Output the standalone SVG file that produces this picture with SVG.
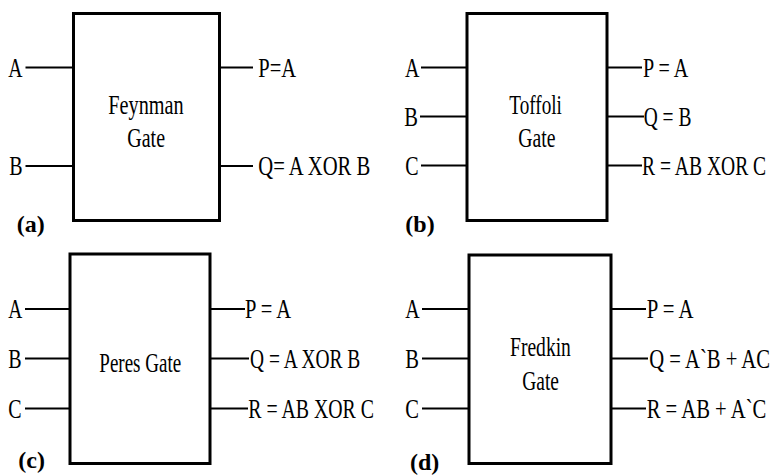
<svg xmlns="http://www.w3.org/2000/svg" width="774" height="476" viewBox="0 0 774 476">
<style>
.box{fill:#fff;stroke:#000;stroke-width:3}
.wire{stroke:#000;stroke-width:2;fill:none}
text{font-family:"Liberation Serif","Times New Roman",serif;font-size:27px;fill:#000}
.cap{font-size:24px;font-weight:bold}
</style>
<rect width="774" height="476" fill="#fff"/>
<g id="connectors">
<line class="wire" x1="25.5" y1="67.5" x2="73.5" y2="67.5"/>
<line class="wire" x1="25.5" y1="166" x2="73.5" y2="166"/>
<line class="wire" x1="219.5" y1="67.5" x2="253" y2="67.5"/>
<line class="wire" x1="219.5" y1="166" x2="253" y2="166"/>
<line class="wire" x1="421" y1="67.5" x2="467" y2="67.5"/>
<line class="wire" x1="420" y1="116.5" x2="467" y2="116.5"/>
<line class="wire" x1="421" y1="165.5" x2="467" y2="165.5"/>
<line class="wire" x1="607" y1="67.5" x2="642" y2="67.5"/>
<line class="wire" x1="607" y1="116.5" x2="644" y2="116.5"/>
<line class="wire" x1="607" y1="165.5" x2="642" y2="165.5"/>
<line class="wire" x1="25" y1="309" x2="70" y2="309"/>
<line class="wire" x1="25" y1="358.5" x2="70" y2="358.5"/>
<line class="wire" x1="25" y1="408.5" x2="70" y2="408.5"/>
<line class="wire" x1="210" y1="309" x2="245" y2="309"/>
<line class="wire" x1="210" y1="358.5" x2="249" y2="358.5"/>
<line class="wire" x1="210" y1="408.5" x2="248" y2="408.5"/>
<line class="wire" x1="422" y1="309" x2="469" y2="309"/>
<line class="wire" x1="422" y1="358.5" x2="469" y2="358.5"/>
<line class="wire" x1="422" y1="408.5" x2="469" y2="408.5"/>
<line class="wire" x1="611" y1="309" x2="646" y2="309"/>
<line class="wire" x1="611" y1="358.5" x2="648" y2="358.5"/>
<line class="wire" x1="611" y1="408.5" x2="646" y2="408.5"/>
</g>
<g id="feynman">
<rect class="box" x="73.5" y="13.5" width="146" height="207"/>
<text transform="translate(108.3 114.3) scale(0.75 1)">Feynman</text>
<text transform="translate(127.3 146.7) scale(0.74 1)">Gate</text>
<text transform="translate(8.3 76.5) scale(0.73 1)">A</text>
<text transform="translate(9.3 175) scale(0.74 1)">B</text>
<text transform="translate(258.3 76.5) scale(0.76 1)">P=A</text>
<text transform="translate(258.3 175) scale(0.765 1)">Q= A XOR B</text>
<text class="cap" x="16.7" y="232">(a)</text>
</g>
<g id="toffoli">
<rect class="box" x="467" y="13.5" width="140" height="207"/>
<text transform="translate(509.3 114.3) scale(0.71 1)">Toffoli</text>
<text transform="translate(518.3 146.7) scale(0.73 1)">Gate</text>
<text transform="translate(405 76.5) scale(0.74 1)">A</text>
<text transform="translate(404.3 125.5) scale(0.76 1)">B</text>
<text transform="translate(405.3 174.5) scale(0.74 1)">C</text>
<text transform="translate(643 76.5) scale(0.745 1)">P = A</text>
<text transform="translate(643.7 125.5) scale(0.72 1)">Q = B</text>
<text transform="translate(642 174.5) scale(0.725 1)">R = AB XOR C</text>
<text class="cap" x="405.3" y="232">(b)</text>
</g>
<g id="peres">
<rect class="box" x="70" y="254" width="140" height="209.5"/>
<text transform="translate(99.3 372.3) scale(0.705 1)">Peres Gate</text>
<text transform="translate(8.3 318) scale(0.72 1)">A</text>
<text transform="translate(8.3 367.5) scale(0.74 1)">B</text>
<text transform="translate(8.3 417.5) scale(0.74 1)">C</text>
<text transform="translate(245 318) scale(0.76 1)">P = A</text>
<text transform="translate(250 367.5) scale(0.72 1)">Q = A XOR B</text>
<text transform="translate(248.3 417.5) scale(0.734 1)">R = AB XOR C</text>
<text class="cap" x="18.3" y="468">(c)</text>
</g>
<g id="fredkin">
<rect class="box" x="469" y="255" width="142" height="208.5"/>
<text transform="translate(510 356) scale(0.725 1)">Fredkin</text>
<text transform="translate(522.3 389.5) scale(0.72 1)">Gate</text>
<text transform="translate(405.3 318) scale(0.74 1)">A</text>
<text transform="translate(405.3 367.5) scale(0.76 1)">B</text>
<text transform="translate(405.3 417.5) scale(0.76 1)">C</text>
<text transform="translate(646.7 318) scale(0.77 1)">P = A</text>
<text transform="translate(649.3 367.5) scale(0.765 1)">Q = A`B + AC</text>
<text transform="translate(646.7 417.5) scale(0.765 1)">R = AB + A`C</text>
<text class="cap" x="410" y="470">(d)</text>
</g>
</svg>
